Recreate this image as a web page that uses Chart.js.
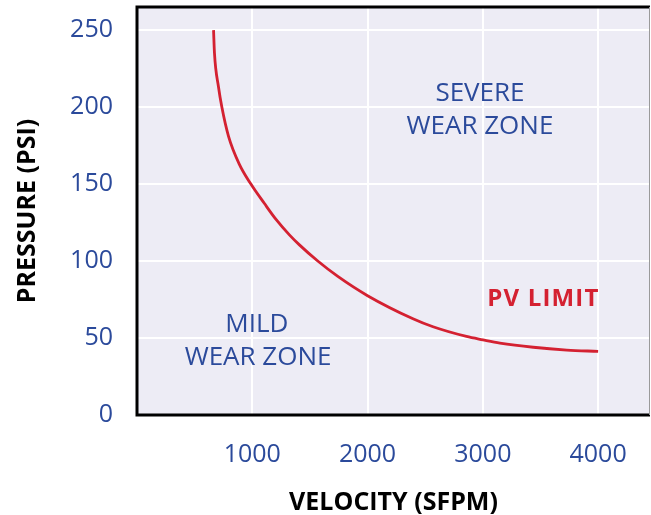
<!DOCTYPE html>
<html>
<head>
<meta charset="utf-8">
<script src="https://cdn.jsdelivr.net/npm/chart.js@4.4.1/dist/chart.umd.min.js"></script>
<style>
  html, body { margin:0; padding:0; background:#fff; }
  #wrap { width:651px; height:515px; }
</style>
</head>
<body>
<div id="wrap"><canvas id="pvChart" width="651" height="515"></canvas></div>
<script>
// PV limit curve (velocity in SFPM, pressure in PSI)
const velocity = [664, 672, 707, 736, 794, 887, 988, 1104, 1206, 1322, 1409, 1568, 1742, 2000, 2394, 2568, 2858, 3000, 3148, 3437, 3728, 4000];
const pressure = [250, 235, 213, 200, 181, 163, 150, 137.5, 127, 117, 110.5, 100, 90, 77.5, 62.5, 57.3, 51, 48.8, 46.7, 44, 42.2, 41.3];

const xTicks = [1000, 2000, 3000, 4000];
const yTicks = [0, 50, 100, 150, 200, 250];

const zoneLabels = ['SEVERE', 'WEAR ZONE', 'MILD', 'WEAR ZONE', 'PV LIMIT'];

const blue = '#2b4a9b';
const red = '#d42131';

const points = velocity.map((v, i) => ({x: v, y: pressure[i]}));

// plot background + frame
const framePlugin = {
    id: 'frame',
    beforeDraw(chart) {
        const a = chart.chartArea, c = chart.ctx;
        c.save();
        c.fillStyle = '#edecf5';
        c.fillRect(a.left, a.top, a.right - a.left, a.bottom - a.top);
        c.restore();
    },
    beforeDatasetsDraw(chart) {
        const a = chart.chartArea, c = chart.ctx;
        c.save();
        c.strokeStyle = '#000';
        c.lineWidth = 3;
        c.beginPath();
        c.moveTo(a.right, a.top);
        c.lineTo(a.left, a.top);
        c.lineTo(a.left, a.bottom);
        c.lineTo(a.right, a.bottom);
        c.stroke();
        c.strokeStyle = '#9a9a9a';
        c.lineWidth = 1;
        c.beginPath();
        c.moveTo(a.right - 0.5, a.top);
        c.lineTo(a.right - 0.5, a.bottom);
        c.stroke();
        c.restore();
    }
};

// zone text placed in data units
const zonePlugin = {
    id: 'zones',
    afterDatasetsDraw(chart) {
        const c = chart.ctx, xs = chart.scales.x, ys = chart.scales.y;
        const spots = [
            [2975, 209, blue, false],
            [2975, 187, blue, false],
            [1040, 58.4, blue, false],
            [1050, 37.2, blue, false],
            [3525, 75, red, true]
        ];
        c.save();
        c.textAlign = 'center';
        c.textBaseline = 'middle';
        zoneLabels.forEach((t, i) => {
            const s = spots[i];
            c.fillStyle = s[2];
            c.font = s[3] ? 'bold 24px "Open Sans"' : '26px "Open Sans"';
            c.letterSpacing = s[3] ? '1.2px' : '0px';
            c.fillText(t, xs.getPixelForValue(s[0]), ys.getPixelForValue(s[1]));
        });
        c.restore();
    }
};

new Chart(document.getElementById('pvChart').getContext('2d'), {
    type: 'line',
    data: {
        datasets: [{
            label: 'PV LIMIT',
            data: points,
            borderColor: red,
            borderWidth: 2.8,
            pointRadius: 0,
            fill: false,
            cubicInterpolationMode: 'monotone'
        }]
    },
    options: {
        responsive: false,
        animation: false,
        layout: { padding: { top: 7, right: 1, left: 0, bottom: 0 } },
        plugins: { legend: { display: false }, tooltip: { enabled: false } },
        scales: {
            x: {
                type: 'linear',
                min: 0, max: 4450,
                afterBuildTicks: s => { s.ticks = xTicks.map(v => ({value: v})); },
                afterFit: s => { s.height = 100; s.paddingLeft = 0; s.paddingRight = 0; },
                grid: { color: '#ffffff', lineWidth: 2, drawTicks: false },
                border: { display: false },
                ticks: { color: blue, font: { family: 'Open Sans', size: 25 }, padding: 25, maxRotation: 0, callback: v => String(v) },
                title: { display: true, text: 'VELOCITY (SFPM)', color: '#000', font: { family: 'Open Sans', size: 25, weight: 'bold', lineHeight: 1 }, padding: { top: 0, bottom: 0 } }
            },
            y: {
                type: 'linear',
                min: 0, max: 265,
                afterBuildTicks: s => { s.ticks = yTicks.map(v => ({value: v})); },
                afterFit: s => { s.width = 137; s.paddingTop = 0; s.paddingBottom = 0; },
                grid: { color: '#ffffff', lineWidth: 2, drawTicks: false },
                border: { display: false },
                ticks: { color: blue, font: { family: 'Open Sans', size: 25 }, padding: 24, callback: v => String(v) },
                title: { display: true, text: 'PRESSURE (PSI)', color: '#000', font: { family: 'Open Sans', size: 25, weight: 'bold', lineHeight: 1 }, padding: { top: 15.5, bottom: 0 } }
            }
        }
    },
    plugins: [framePlugin, zonePlugin]
});
</script>
</body>
</html>
